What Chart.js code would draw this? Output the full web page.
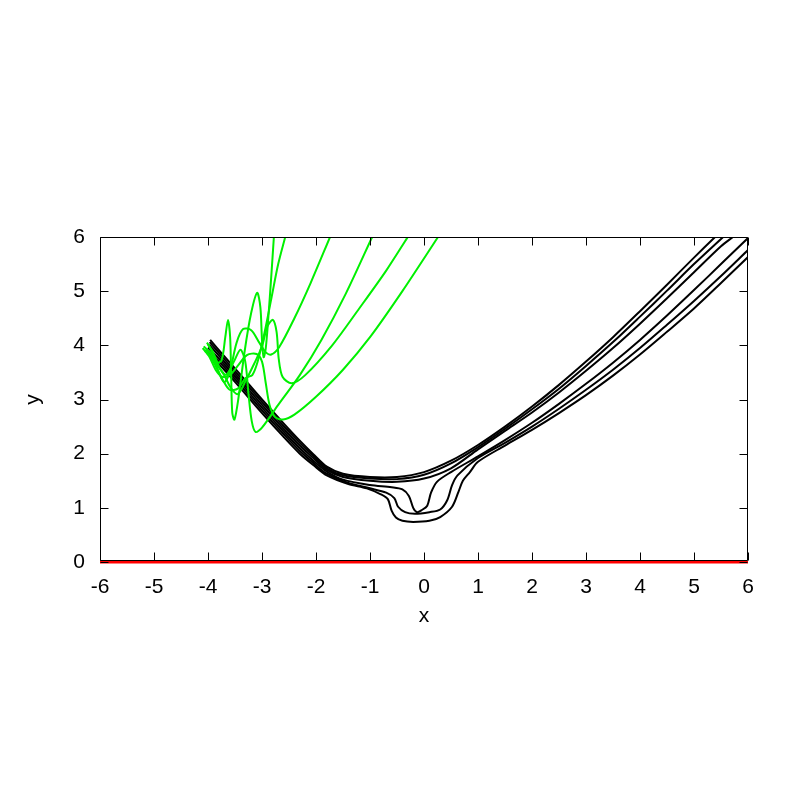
<!DOCTYPE html>
<html>
<head>
<meta charset="utf-8">
<script src="https://cdn.jsdelivr.net/npm/chart.js@4"></script>
<style>
  body { margin: 0; background: #fff; }
</style>
</head>
<body>
<canvas id="c" width="800" height="800"></canvas>
<script>
// axis ticks
const xTicks = [-6, -5, -4, -3, -2, -1, 0, 1, 2, 3, 4, 5, 6];
const yTicks = [0, 1, 2, 3, 4, 5, 6];

// green trajectories
const green1 = [[-4.08,3.98],[-3.95,3.85],[-3.85,3.68],[-3.75,3.72],[-3.68,4.15],[-3.63,4.47],[-3.59,4.15],[-3.57,3.4],[-3.55,2.75],[-3.51,2.63],[-3.44,3.0],[-3.32,3.9],[-3.2,4.6],[-3.09,4.97],[-3.03,4.7],[-3.0,4.1],[-2.97,3.78],[-2.93,3.95],[-2.88,4.55],[-2.83,5.25],[-2.78,6.0]];
const green2 = [[-4.02,4.05],[-3.9,3.86],[-3.78,3.58],[-3.66,3.46],[-3.52,3.7],[-3.4,3.92],[-3.31,3.7],[-3.25,3.1],[-3.19,2.6],[-3.12,2.4],[-3.0,2.48],[-2.7,2.9],[-2.3,3.45],[-1.9,4.1],[-1.45,4.95],[-0.96,6.0]];
const green3 = [[-4.1,3.95],[-3.98,3.8],[-3.86,3.55],[-3.74,3.42],[-3.6,3.45],[-3.45,3.62],[-3.28,3.82],[-3.1,3.84],[-3.0,3.7],[-2.93,3.3],[-2.86,2.9],[-2.76,2.68],[-2.61,2.63],[-2.4,2.72],[-2.0,3.05],[-1.5,3.55],[-1.0,4.15],[-0.4,5.0],[0.26,6.0]];
const green4 = [[-4.05,3.92],[-3.93,3.76],[-3.82,3.62],[-3.7,3.45],[-3.58,3.22],[-3.45,3.1],[-3.3,3.35],[-3.15,3.65],[-3.0,3.98],[-2.9,4.35],[-2.8,4.47],[-2.73,4.25],[-2.69,3.75],[-2.62,3.42],[-2.45,3.3],[-2.2,3.45],[-1.7,4.0],[-1.2,4.68],[-0.7,5.38],[-0.3,6.0]];
const green5 = [[-4.0,4.02],[-3.9,3.82],[-3.8,3.5],[-3.7,3.32],[-3.6,3.5],[-3.47,4.05],[-3.35,4.3],[-3.2,4.28],[-3.05,4.05],[-2.93,3.87],[-2.83,3.83],[-2.68,3.97],[-2.4,4.5],[-2.1,5.15],[-1.74,6.0]];
const green6 = [[-4.06,3.9],[-3.96,3.8],[-3.85,3.6],[-3.72,3.35],[-3.6,3.18],[-3.45,3.2],[-3.3,3.4],[-3.18,3.45],[-3.08,3.7],[-2.95,4.25],[-2.82,4.9],[-2.7,5.5],[-2.57,6.0]];

// black trajectories
const black1 = [[-3.96,4.1],[-3.7,3.8],[-3.4,3.46],[-3.0,3.0],[-2.6,2.56],[-2.3,2.24],[-2.05,1.99],[-1.8,1.76],[-1.5,1.63],[-1.0,1.57],[-0.5,1.57],[0,1.66],[0.5,1.87],[1.0,2.16],[1.5,2.5],[2,2.87],[2.5,3.27],[3,3.7],[3.5,4.15],[4,4.63],[4.5,5.12],[5,5.62],[5.39,6.0]];
const black2 = [[-3.97,4.06],[-3.7,3.75],[-3.4,3.41],[-3.0,2.95],[-2.6,2.51],[-2.3,2.2],[-2.05,1.96],[-1.8,1.73],[-1.5,1.6],[-1.0,1.54],[-0.5,1.53],[0,1.61],[0.5,1.82],[1.0,2.12],[1.5,2.46],[2,2.82],[2.5,3.2],[3,3.62],[3.5,4.06],[4,4.53],[4.5,5.01],[5,5.5],[5.54,6.0]];
const black3 = [[-3.98,4.01],[-3.7,3.7],[-3.4,3.36],[-3.0,2.9],[-2.6,2.46],[-2.3,2.15],[-2.05,1.92],[-1.8,1.7],[-1.5,1.57],[-1.0,1.5],[-0.5,1.48],[0,1.54],[0.5,1.73],[1.0,2.08],[1.5,2.42],[2,2.76],[2.5,3.13],[3,3.53],[3.5,3.95],[4,4.4],[4.5,4.87],[5,5.35],[5.5,5.83],[5.72,6.0]];
const black4 = [[-4.0,3.96],[-3.7,3.65],[-3.4,3.31],[-3.0,2.85],[-2.6,2.41],[-2.3,2.1],[-2.05,1.87],[-1.8,1.67],[-1.5,1.52],[-1.0,1.42],[-0.6,1.38],[-0.4,1.34],[-0.28,1.22],[-0.2,1.0],[-0.13,0.92],[-0.04,0.96],[0.06,1.04],[0.13,1.28],[0.24,1.48],[0.5,1.66],[1.0,1.95],[1.5,2.25],[2,2.57],[2.5,2.92],[3,3.29],[3.5,3.68],[4,4.1],[4.5,4.55],[5,5.02],[5.5,5.5],[6,5.98]];
const black5 = [[-4.01,3.91],[-3.7,3.6],[-3.4,3.26],[-3.0,2.8],[-2.6,2.36],[-2.3,2.05],[-2.05,1.83],[-1.8,1.63],[-1.4,1.46],[-1.0,1.36],[-0.7,1.28],[-0.55,1.18],[-0.48,1.02],[-0.35,0.92],[-0.17,0.89],[0.1,0.92],[0.3,0.97],[0.43,1.14],[0.52,1.42],[0.62,1.6],[1.0,1.92],[1.5,2.2],[2,2.5],[2.5,2.83],[3,3.18],[3.5,3.55],[4,3.95],[4.5,4.38],[5,4.82],[5.5,5.28],[6,5.76]];
const black6 = [[-4.02,3.86],[-3.7,3.55],[-3.4,3.21],[-3.0,2.75],[-2.6,2.31],[-2.3,2.0],[-2.05,1.79],[-1.8,1.6],[-1.4,1.44],[-1.06,1.36],[-0.8,1.25],[-0.67,1.16],[-0.6,0.95],[-0.52,0.82],[-0.4,0.76],[-0.2,0.74],[0.1,0.76],[0.3,0.83],[0.52,1.02],[0.64,1.3],[0.72,1.5],[0.85,1.66],[1.0,1.85],[1.5,2.15],[2,2.44],[2.5,2.75],[3,3.08],[3.5,3.44],[4,3.83],[4.5,4.25],[5,4.68],[5.5,5.15],[6,5.63]];

// red line along y = 0
const red1 = [[-6,0],[6,0]];

const greens = [green1, green2, green3, green4, green5, green6];
const blacks = [black1, black2, black3, black4, black5, black6];

function toPoints(arr) {
    return arr.map(p => ({x: p[0], y: p[1]}));
}

const datasets = [];
greens.forEach(g => {
    datasets.push({data: toPoints(g), borderColor: 'rgb(0,240,0)', borderWidth: 2, order: 0});
});
blacks.forEach(b => {
    datasets.push({data: toPoints(b), borderColor: '#000', borderWidth: 2, order: 1});
});
datasets.push({data: toPoints(red1), borderColor: '#f00', borderWidth: 3, tension: 0, clip: false, order: 2});

// frame and inward ticks like gnuplot
const framePlugin = {
    id: 'frame',
    afterDatasetsDraw(chart) {
        const ctx = chart.ctx;
        const a = chart.chartArea;
        const xs = chart.scales.x;
        const ys = chart.scales.y;
        const l = Math.round(a.left) + 0.5;
        const r = Math.round(a.right) - 0.5;
        const t = Math.round(a.top) + 0.5;
        const b = Math.round(a.bottom) - 1.5;
        ctx.save();
        ctx.strokeStyle = '#000';
        ctx.lineWidth = 1;
        ctx.beginPath();
        ctx.moveTo(l, t); ctx.lineTo(r, t); ctx.lineTo(r, b); ctx.lineTo(l, b); ctx.closePath();
        xTicks.forEach(v => {
            const px = Math.round(xs.getPixelForValue(v)) + 0.5;
            ctx.moveTo(px, b);
            ctx.lineTo(px, b - 8);
            ctx.moveTo(px, t);
            ctx.lineTo(px, t + 8);
        });
        yTicks.forEach(v => {
            const py = Math.round(ys.getPixelForValue(v)) + 0.5;
            ctx.moveTo(l, py);
            ctx.lineTo(l + 8, py);
            ctx.moveTo(r, py);
            ctx.lineTo(r - 8, py);
        });
        ctx.stroke();
        ctx.restore();
    }
};

Chart.defaults.color = '#000';
Chart.defaults.font.family = '"Liberation Sans", Arial, sans-serif';

new Chart(document.getElementById('c').getContext('2d'), {
    type: 'scatter',
    data: { datasets: datasets },
    options: {
        responsive: false,
        animation: false,
        layout: { padding: { left: 0, top: 237, right: 52, bottom: 168 } },
        plugins: { legend: { display: false }, tooltip: { enabled: false } },
        elements: {
            point: { radius: 0 },
            line: { tension: 0.3 }
        },
        datasets: { scatter: { showLine: true } },
        scales: {
            x: {
                type: 'linear', min: -6, max: 6,
                afterFit: (s) => { s.height = 70; },
                afterBuildTicks: (s) => { s.ticks = xTicks.map(v => ({value: v})); },
                ticks: { font: { size: 21 }, padding: 13, maxRotation: 0 },
                grid: { display: false, drawTicks: false },
                border: { display: false },
                title: { display: true, text: 'x', font: { size: 21 }, padding: { top: 0, bottom: 3 } }
            },
            y: {
                type: 'linear', min: 0, max: 6,
                afterFit: (s) => { s.width = 100; },
                afterBuildTicks: (s) => { s.ticks = yTicks.map(v => ({value: v})); },
                ticks: { font: { size: 21 }, padding: 15 },
                grid: { display: false, drawTicks: false },
                border: { display: false },
                title: { display: true, text: 'y', font: { size: 21 }, padding: { top: 21, bottom: 0 } }
            }
        }
    },
    plugins: [framePlugin]
});
</script>
</body>
</html>
